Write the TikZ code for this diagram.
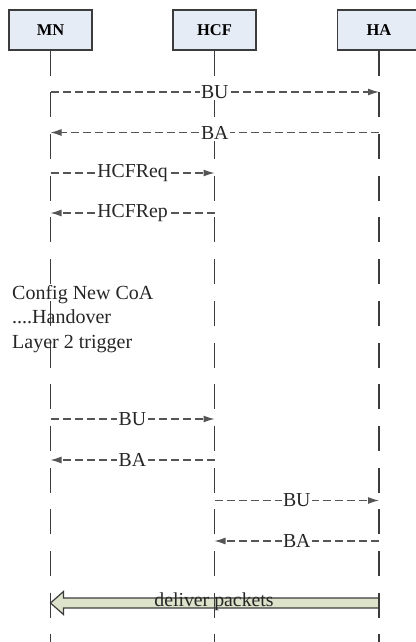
\documentclass[tikz,border=0pt]{standalone}
\usepackage{fontspec}
\setmainfont{Liberation Serif}
\usetikzlibrary{arrows.meta,positioning}
\definecolor{boxfill}{HTML}{E6ECF6}
\definecolor{pktfill}{HTML}{DDE2CA}
\definecolor{linegrey}{HTML}{3C3C3C}
\definecolor{msggrey}{HTML}{555555}

\begin{document}
\begin{tikzpicture}[x=1pt, y=-1pt,
		>={Latex[length=11pt,width=7pt]},
		headnode/.style={rectangle,draw=linegrey,line width=1.2pt,fill=boxfill,minimum width=83pt,minimum height=40pt,inner sep=0pt,font=\fontsize{16.5}{20}\selectfont\bfseries},
		lifeline/.style={draw=linegrey,line width=1.6pt,dash pattern=on 25pt off 16.7pt},
		msgline/.style={->,draw=msggrey,line width=1.2pt,dash pattern=on 8pt off 4pt},
		lblnode/.style={fill=white,inner sep=1.5pt,text=black!85,font=\fontsize{19.8}{22}\selectfont},
		notenode/.style={anchor=north west,align=left,inner sep=0pt,text=black!85,font=\fontsize{20}{24.5}\selectfont},
		bigarrow/.style={draw=linegrey,line width=1.2pt,fill=pktfill}]
		\useasboundingbox (0,0) rectangle (415,642);

		\node[headnode] (mn) at (50.5,30) {MN};
		\node[headnode] (hcf) at (214.5,30) {HCF};
		\node[headnode] (ha) at (379,30) {HA};

		\coordinate (mnend) at (50.5,645);
		\coordinate (hcfend) at (214.5,645);
		\coordinate (haend) at (379,645);

		% deliver packets
		\coordinate (mn9) at (50.5,603);
		\coordinate (ha9) at (379,603);
		\draw[bigarrow] ([yshift=5pt]ha9) -- ([xshift=13pt,yshift=5pt]mn9)
			-- ([xshift=13pt,yshift=11.5pt]mn9) -- (mn9)
			-- ([xshift=13pt,yshift=-11.5pt]mn9) -- ([xshift=13pt,yshift=-5pt]mn9)
			-- ([yshift=-5pt]ha9) -- cycle;
		\node[lblnode,fill=none] (dp) at (214,602) {deliver packets};

		\draw[lifeline] (mn.south) -- (mnend);
		\draw[lifeline] (hcf.south) -- (hcfend);
		\draw[lifeline] (ha.south) -- (haend);

		\coordinate (mn1) at (50.5,92);   \coordinate (ha1) at (379,92);
		\coordinate (mn2) at (50.5,132.5); \coordinate (ha2) at (379,132.5);
		\coordinate (mn3) at (50.5,173);  \coordinate (hcf3) at (214.5,173);
		\coordinate (mn4) at (50.5,213);  \coordinate (hcf4) at (214.5,213);
		\coordinate (mn5) at (50.5,419);  \coordinate (hcf5) at (214.5,419);
		\coordinate (mn6) at (50.5,460);  \coordinate (hcf6) at (214.5,460);
		\coordinate (hcf7) at (214.5,500.5); \coordinate (ha7) at (379,500.5);
		\coordinate (hcf8) at (214.5,541); \coordinate (ha8) at (379,541);

		\draw[msgline] (mn1) -- node[lblnode] {BU} (ha1);
		\draw[msgline] (ha2) -- node[lblnode] {BA} (mn2);
		\draw[msgline] (mn3) -- node[lblnode] {HCFReq} (hcf3);
		\draw[msgline] (hcf4) -- node[lblnode] {HCFRep} (mn4);

		\node[notenode] (note) at (12,285) {Config New CoA\\....Handover\\Layer 2 trigger};

		\draw[msgline] (mn5) -- node[lblnode] {BU} (hcf5);
		\draw[msgline] (hcf6) -- node[lblnode] {BA} (mn6);
		\draw[msgline] (hcf7) -- node[lblnode] {BU} (ha7);
		\draw[msgline] (ha8) -- node[lblnode] {BA} (hcf8);
	\end{tikzpicture}
\end{document}
